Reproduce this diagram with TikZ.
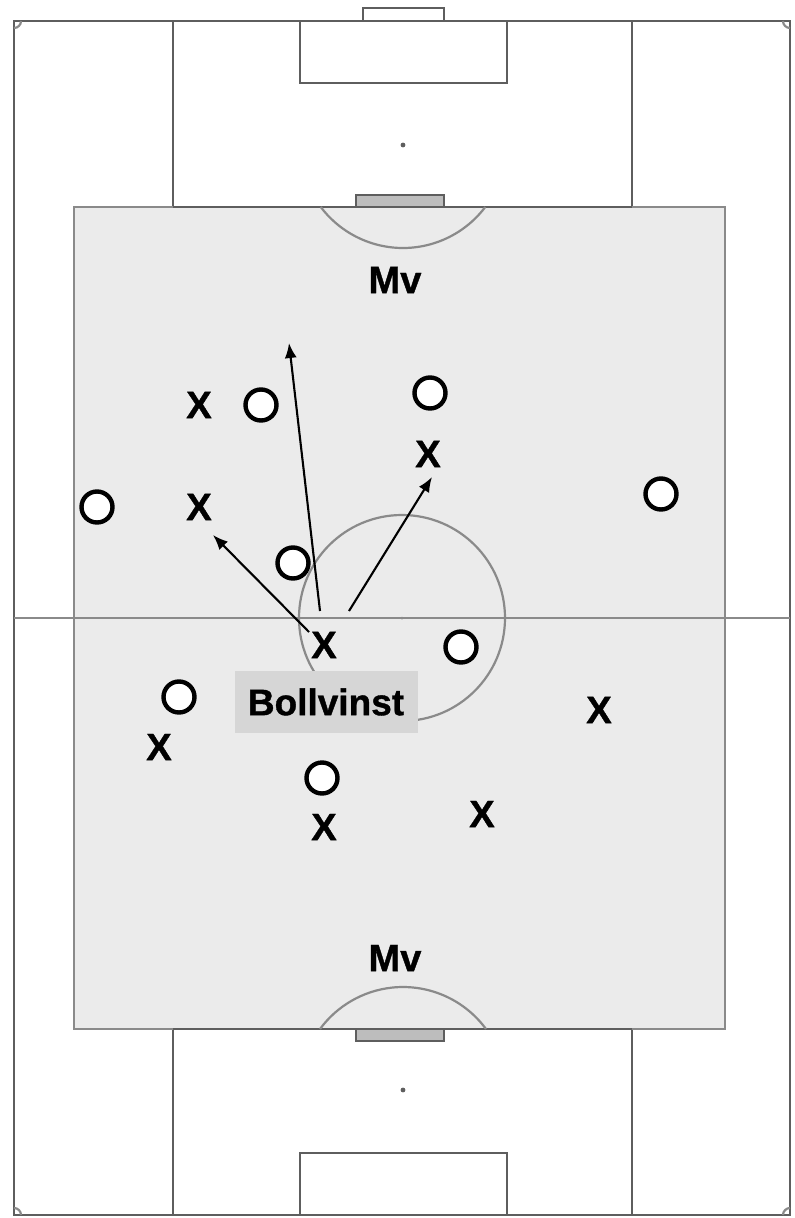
\documentclass[tikz,border=0pt]{standalone}
\usepackage{fontspec}
\setmainfont{Liberation Sans}
\newfontfamily\heavy[FakeBold=1]{Liberation Sans Bold}
\usetikzlibrary{arrows.meta}
\definecolor{chalk}{HTML}{5E5E5E}
\definecolor{softline}{HTML}{8A8A8A}
\definecolor{zonefill}{HTML}{EBEBEB}
\definecolor{goalfill}{HTML}{BDBDBD}
\definecolor{tagfill}{HTML}{D6D6D6}
\tikzset{pitch/.style={draw=chalk,line width=2.7pt},
thinpitch/.style={draw=softline,line width=2.2pt},
zone/.style={draw=softline,fill=zonefill,line width=1.6pt},
goalbar/.style={draw=chalk,fill=goalfill,line width=1.6pt},
xmark/.style={font=\fontsize{38}{40}\heavy,inner sep=0pt},
ring/.style={circle,draw=black,fill=white,line width=4.4pt,minimum size=31pt,inner sep=0pt},
tag/.style={fill=tagfill,minimum width=183pt,minimum height=62pt,inner sep=0pt,font=\fontsize{37}{40}\heavy},
run/.style={draw=black,line width=2.1pt,-{Latex[length=15pt,width=12pt]}}}

\begin{document}
\begin{tikzpicture}[x=1pt,y=-1pt]
\useasboundingbox[fill=white] (0,0) rectangle (795,1218);
\coordinate (spotT) at (403,145);
\coordinate (spotB) at (403,1090);
\coordinate (mid) at (402,618);
% pitch outline and boxes
\draw[pitch,fill=white] (363,8) rectangle (444,21);
\draw[pitch] (14,21) rectangle (790,1215);
\draw[pitch] (173,21) rectangle (632,207);
\draw[pitch] (300,21) rectangle (507,83);
\draw[pitch] (173,1029) rectangle (632,1215);
\draw[pitch] (300,1153) rectangle (507,1215);
\draw[thinpitch] (21,21) arc[start angle=0,end angle=90,radius=7];
\draw[thinpitch] (783,21) arc[start angle=180,end angle=90,radius=7];
\draw[thinpitch] (21,1215) arc[start angle=0,end angle=-90,radius=7];
\draw[thinpitch] (783,1215) arc[start angle=180,end angle=270,radius=7];
\fill[chalk] (spotT) circle (2.4);
\fill[chalk] (spotB) circle (2.4);
% shaded playing zone
\draw[zone] (74,207) rectangle (725,1029);
\draw[pitch] (173,207) -- (632,207);
\draw[pitch] (173,1029) -- (632,1029);
\draw[thinpitch] (14,618) -- (790,618);
\draw[thinpitch] (mid) circle (103);
\fill[softline] (mid) circle (1.5);
\draw[thinpitch] ([shift={(37:103)}]spotT) arc[start angle=37,end angle=143,radius=103];
\draw[thinpitch] ([shift={(-36.3:103)}]spotB) arc[start angle=-36.3,end angle=-143.7,radius=103];
\draw[goalbar] (356,195) rectangle (444,207);
\draw[goalbar] (356,1029) rectangle (444,1041);
% keepers
\node[xmark] (mvT) at (395,280) {Mv};
\node[xmark] (mvB) at (395,958) {Mv};
% players
\foreach \n/\p in {o1/{261,405},o2/{430,393},o3/{97,507},o4/{661,494},o5/{293,563},o6/{461,647},o7/{179,697},o8/{322,778}}
  \node[ring] (\n) at (\p) {};
\foreach \n/\p in {x1/{199,405},x2/{428,454},x3/{199,507},x4/{324,645},x5/{599,710},x6/{159,747},x7/{324,827},x8/{482,814}}
  \node[xmark] (\n) at (\p) {X};
\node[tag] (win) at (326,702) {Bollvinst};
% passing options
\coordinate (fromL) at (309,632);
\coordinate (fromM) at (320,611);
\coordinate (fromR) at (349,611);
\coordinate (toL) at (213,535);
\coordinate (toM) at (289,343);
\coordinate (toR) at (432,477);
\draw[run] (fromL) -- (toL);
\draw[run] (fromM) -- (toM);
\draw[run] (fromR) -- (toR);
\end{tikzpicture}
\end{document}
